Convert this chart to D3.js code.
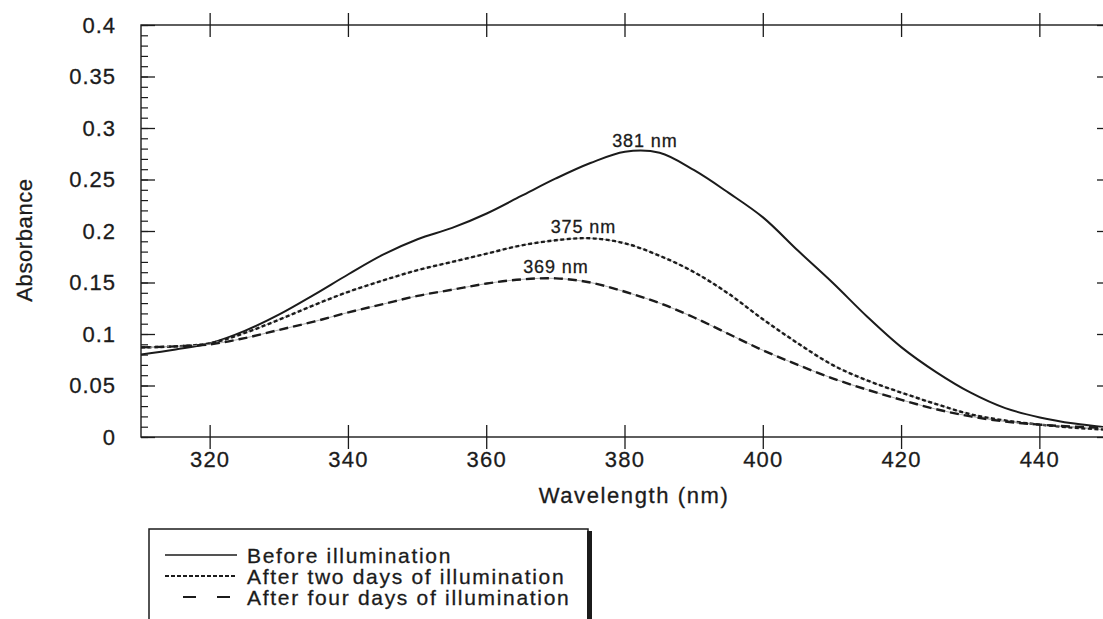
<!DOCTYPE html>
<html>
<head>
<meta charset="utf-8">
<script src="https://cdn.jsdelivr.net/npm/d3@7"></script>
<style>
  html, body { margin: 0; padding: 0; background: #fff; }
  svg { display: block; font-family: "Liberation Sans", Arial, sans-serif; }
  svg text { stroke: #1b1b1b; stroke-width: 0.3px; }
</style>
</head>
<body>
<div id="chart"></div>
<script>
// absorbance spectra
const wavelengths = [310, 315, 320, 325, 330, 335, 340, 345, 350, 355, 360, 365, 370, 375,
  380, 385, 390, 395, 400, 405, 410, 415, 420, 425, 430, 435, 440, 445, 450];
const beforeIllum = [0.080, 0.085, 0.091, 0.103, 0.119, 0.138, 0.158, 0.177, 0.192, 0.203,
  0.217, 0.234, 0.251, 0.266, 0.277, 0.276, 0.259, 0.237, 0.213, 0.181, 0.150, 0.117,
  0.087, 0.063, 0.043, 0.028, 0.019, 0.013, 0.009];
const afterTwoDays = [0.087, 0.088, 0.091, 0.101, 0.114, 0.128, 0.141, 0.152, 0.162, 0.170,
  0.178, 0.186, 0.191, 0.193, 0.188, 0.176, 0.160, 0.139, 0.114, 0.091, 0.070, 0.055,
  0.043, 0.032, 0.022, 0.016, 0.012, 0.009, 0.007];
const afterFourDays = [0.087, 0.088, 0.090, 0.096, 0.104, 0.112, 0.121, 0.129, 0.137, 0.143,
  0.149, 0.153, 0.154, 0.150, 0.141, 0.130, 0.116, 0.100, 0.084, 0.070, 0.057, 0.046,
  0.036, 0.027, 0.020, 0.015, 0.012, 0.010, 0.009];

const seriesNames = ["Before illumination", "After two days of illumination", "After four days of illumination"];
const peakLabels = ["381 nm", "375 nm", "369 nm"];
const peakNm = [381, 375, 369];

const xTicks = [320, 340, 360, 380, 400, 420, 440];
const yTicks = [0, 0.05, 0.1, 0.15, 0.2, 0.25, 0.3, 0.35, 0.4];

const W = 1103, H = 619;
const plotL = 141, plotR = 1109, plotT = 25, plotB = 437;

const svg = d3.select("#chart").append("svg")
  .attr("width", W).attr("height", H);

const x = d3.scaleLinear().domain([310, 450]).range([plotL, plotR]);
const y = d3.scaleLinear().domain([0, 0.4]).range([plotB, plotT]);

const ink = "#1b1b1b";

// frame
svg.append("rect")
  .attr("x", plotL).attr("y", plotT)
  .attr("width", plotR - plotL).attr("height", plotB - plotT)
  .attr("fill", "none").attr("stroke", ink).attr("stroke-width", 1.4);

// y ticks: minor every 0.01, major every 0.05, pointing inward on both sides
const yMinor = d3.range(0, 41).map(i => i / 100);
svg.append("g")
  .attr("transform", `translate(${plotL},0)`)
  .call(d3.axisRight(y).tickValues(yMinor).tickSize(7).tickFormat(""))
  .call(g => g.select(".domain").remove())
  .call(g => g.selectAll("line").attr("stroke", ink).attr("stroke-width", 1.2));
svg.append("g")
  .attr("transform", `translate(${plotL},0)`)
  .call(d3.axisRight(y).tickValues(yTicks).tickSize(14).tickFormat(""))
  .call(g => g.select(".domain").remove())
  .call(g => g.selectAll("line").attr("stroke", ink).attr("stroke-width", 1.3));
svg.append("g")
  .attr("transform", `translate(${plotR},0)`)
  .call(d3.axisLeft(y).tickValues(yMinor).tickSize(6).tickFormat(""))
  .call(g => g.select(".domain").remove())
  .call(g => g.selectAll("line").attr("stroke", ink).attr("stroke-width", 1.2));
svg.append("g")
  .attr("transform", `translate(${plotR},0)`)
  .call(d3.axisLeft(y).tickValues(yTicks).tickSize(12).tickFormat(""))
  .call(g => g.select(".domain").remove())
  .call(g => g.selectAll("line").attr("stroke", ink).attr("stroke-width", 1.3));

// y labels
svg.append("g")
  .selectAll("text")
  .data(yTicks)
  .join("text")
  .attr("x", plotL - 25)
  .attr("y", d => y(d))
  .attr("dy", "0.36em")
  .attr("text-anchor", "end")
  .attr("fill", ink)
  .style("font-size", "22px")
  .style("letter-spacing", "1px")
  .text(d => d === 0 ? "0" : String(d));

// x ticks cross the top and bottom lines
[plotT, plotB].forEach(yy => {
  svg.append("g")
    .selectAll("line")
    .data(xTicks)
    .join("line")
    .attr("x1", d => x(d)).attr("x2", d => x(d))
    .attr("y1", yy - 12).attr("y2", yy + 12)
    .attr("stroke", ink).attr("stroke-width", 1.3);
});

svg.append("g")
  .selectAll("text")
  .data(xTicks)
  .join("text")
  .attr("x", d => x(d))
  .attr("y", 467)
  .attr("text-anchor", "middle")
  .attr("fill", ink)
  .style("font-size", "22px")
  .style("letter-spacing", "1.2px")
  .text(d => d);

// axis titles
svg.append("text")
  .attr("x", 634).attr("y", 503)
  .attr("text-anchor", "middle")
  .attr("fill", ink)
  .style("font-size", "22px")
  .style("letter-spacing", "1.6px")
  .text("Wavelength (nm)");

svg.append("text")
  .attr("transform", "translate(32,240) rotate(-90)")
  .attr("text-anchor", "middle")
  .attr("fill", ink)
  .style("font-size", "22px")
  .style("letter-spacing", "0.6px")
  .text("Absorbance");

// curves
const series = [beforeIllum, afterTwoDays, afterFourDays];
const dashes = [null, "4,2.5", "9,5"];
const line = d3.line()
  .x((d, i) => x(wavelengths[i]))
  .y(d => y(d))
  .curve(d3.curveCatmullRom);

const curves = svg.append("g");
series.forEach((s, k) => {
  if (dashes[k]) {
    // the scan shows a faint hairline between the dashes
    curves.append("path")
      .attr("d", line(s))
      .attr("fill", "none")
      .attr("stroke", "#9a9a9a")
      .attr("stroke-width", 0.8);
  }
  curves.append("path")
    .attr("d", line(s))
    .attr("fill", "none")
    .attr("stroke", ink)
    .attr("stroke-width", k === 0 ? 2 : 2.4)
    .attr("stroke-dasharray", dashes[k]);
});

// peak labels
const labelDx = [13, -7, 7];
svg.append("g")
  .selectAll("text")
  .data(peakLabels)
  .join("text")
  .attr("x", (d, i) => x(peakNm[i]) + labelDx[i])
  .attr("y", (d, i) => y(d3.max(series[i])) - 5)
  .attr("text-anchor", "middle")
  .attr("fill", ink)
  .style("font-size", "18px")
  .style("letter-spacing", "0.9px")
  .text(d => d);

// legend
const lg = svg.append("g");
lg.append("rect")
  .attr("x", 149).attr("y", 529)
  .attr("width", 439).attr("height", 120)
  .attr("fill", "#fff").attr("stroke", ink).attr("stroke-width", 1.5);
lg.append("rect")
  .attr("x", 587).attr("y", 531)
  .attr("width", 5).attr("height", 120)
  .attr("fill", ink);

const legendDash = [null, "4,2", "13,21"];
const legendX1 = [165, 165, 183];
seriesNames.forEach((name, i) => {
  const yy = 555 + i * 21;
  lg.append("line")
    .attr("x1", legendX1[i]).attr("x2", 237)
    .attr("y1", yy).attr("y2", yy)
    .attr("stroke", ink)
    .attr("stroke-width", i === 0 ? 1.4 : 2)
    .attr("stroke-dasharray", legendDash[i]);
  lg.append("text")
    .attr("x", 247).attr("y", yy + 8)
    .attr("fill", ink)
    .style("font-size", "21px")
    .style("letter-spacing", "1.7px")
    .text(name);
});
</script>
</body>
</html>
